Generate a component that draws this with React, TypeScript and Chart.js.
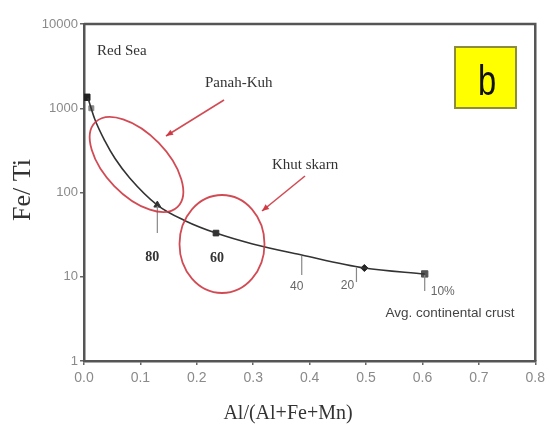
import React, { useEffect, useRef } from 'react';
import { Chart, registerables } from 'chart.js';

Chart.register(...registerables);

// Mixing curve: Red Sea sediments -> average continental crust
const ratioAl = [0.007, 0.019, 0.037, 0.055, 0.081, 0.13, 0.18, 0.234, 0.299, 0.386, 0.497, 0.604];
const ratioFeTi = [1324, 745, 409, 253, 149, 71, 46, 33, 24.5, 18.1, 12.7, 10.8];

// Plotted sample markers
const markerAl = [0.005, 0.013, 0.13, 0.234, 0.497, 0.604];
const markerFeTi = [1350, 1000, 71, 33, 12.7, 10.8];

// Mixing percentage marks along the curve
const mixLabels = ['80', '60', '40', '20', '10%'];
const mixAl = [0.13, 0.234, 0.386, 0.483, 0.604];
const mixFeTi = [71, 33, 18.1, 13.4, 10.8];

const xTickValues = [0, 0.1, 0.2, 0.3, 0.4, 0.5, 0.6, 0.7, 0.8];
const yTickValues = [1, 10, 100, 1000, 10000];

const SERIF = "'Liberation Serif', 'Times New Roman', serif";
const SANS = "'Liberation Sans', Arial, sans-serif";

function arrow(ctx: CanvasRenderingContext2D, x1: number, y1: number, x2: number, y2: number) {
  ctx.beginPath();
  ctx.moveTo(x1, y1);
  ctx.lineTo(x2, y2);
  ctx.stroke();
  const a = Math.atan2(y2 - y1, x2 - x1);
  const L = 7, W = 3;
  ctx.beginPath();
  ctx.moveTo(x2, y2);
  ctx.lineTo(x2 - L * Math.cos(a) + W * Math.sin(a), y2 - L * Math.sin(a) - W * Math.cos(a));
  ctx.lineTo(x2 - L * Math.cos(a) - W * Math.sin(a), y2 - L * Math.sin(a) + W * Math.cos(a));
  ctx.closePath();
  ctx.fill();
}

const decorPlugin = {
  id: 'decor',
  afterDraw(chart: any) {
    const ctx: CanvasRenderingContext2D = chart.ctx;
    const { left, right, top, bottom } = chart.chartArea;
    const xs = chart.scales.x;
    const ys = chart.scales.y;
    ctx.save();

    // frame top & right
    ctx.strokeStyle = '#555';
    ctx.lineWidth = 2.5;
    ctx.beginPath();
    ctx.moveTo(left, top);
    ctx.lineTo(right, top);
    ctx.lineTo(right, bottom);
    ctx.stroke();

    // mixing ticks and labels
    ctx.strokeStyle = '#888';
    ctx.lineWidth = 1.2;
    const tickLen = [28, 0, 20, 16, 17];
    const labelOff = [[-5, 52], [1, 25], [-5, 32], [-9, 20], [6, 18]];
    mixLabels.forEach((lab, i) => {
      const px = xs.getPixelForValue(mixAl[i]);
      const py = ys.getPixelForValue(mixFeTi[i]);
      if (tickLen[i] > 0) {
        ctx.beginPath();
        ctx.moveTo(px, py + 1);
        ctx.lineTo(px, py + tickLen[i]);
        ctx.stroke();
      }
      const [ox, oy] = labelOff[i];
      ctx.textBaseline = 'middle';
      if (i < 2) {
        ctx.font = `bold 14px ${SERIF}`;
        ctx.fillStyle = '#333';
        ctx.textAlign = 'center';
      } else {
        ctx.font = `12px ${SANS}`;
        ctx.fillStyle = '#666';
        ctx.textAlign = i === 4 ? 'left' : 'center';
      }
      ctx.fillText(lab, px + ox, py + oy);
    });

    // Avg. continental crust
    ctx.font = `13.5px ${SANS}`;
    ctx.fillStyle = '#444';
    ctx.textAlign = 'center';
    ctx.fillText('Avg. continental crust', 450, 313);

    // Serif annotations
    ctx.font = `15px ${SERIF}`;
    ctx.fillStyle = '#333';
    ctx.textAlign = 'left';
    ctx.fillText('Red Sea', 97, 51);
    ctx.fillText('Panah-Kuh', 205, 83);
    ctx.fillText('Khut skarn', 272, 165);

    // red ellipses & arrows
    ctx.strokeStyle = 'rgba(205,55,65,0.9)';
    ctx.fillStyle = 'rgba(205,55,65,0.95)';
    ctx.lineWidth = 1.8;
    ctx.beginPath();
    ctx.ellipse(136.5, 164.5, 59, 31, 0.8, 0, Math.PI * 2);
    ctx.stroke();
    ctx.beginPath();
    ctx.ellipse(222, 244, 42.5, 49, 0, 0, Math.PI * 2);
    ctx.stroke();
    ctx.lineWidth = 1.6;
    arrow(ctx, 224, 100, 166, 136);
    arrow(ctx, 305, 176, 262, 211);

    // yellow "b" box
    ctx.fillStyle = '#ffff00';
    ctx.fillRect(455, 47, 61, 61);
    ctx.strokeStyle = '#8c8c3a';
    ctx.lineWidth = 2;
    ctx.strokeRect(455, 47, 61, 61);
    ctx.fillStyle = '#111';
    ctx.save();
    ctx.translate(487, 95);
    ctx.scale(0.78, 1);
    ctx.font = `42px ${SANS}`;
    ctx.textAlign = 'center';
    ctx.textBaseline = 'alphabetic';
    ctx.fillText('b', 0, 0);
    ctx.restore();

    // axis titles
    ctx.fillStyle = '#333';
    ctx.font = `20px ${SERIF}`;
    ctx.textAlign = 'center';
    ctx.textBaseline = 'middle';
    ctx.fillText('Al/(Al+Fe+Mn)', 288, 414);
    ctx.save();
    ctx.translate(23, 190);
    ctx.rotate(-Math.PI / 2);
    ctx.font = `26px ${SERIF}`;
    ctx.fillText('Fe/ Ti', 0, 0);
    ctx.restore();

    ctx.restore();
  },
};

export default function App() {
  const ref = useRef<HTMLCanvasElement | null>(null);
  useEffect(() => {
    if (!ref.current) return;
    const chart = new Chart(ref.current, {
      type: 'line',
      data: {
        datasets: [
          {
            data: ratioAl.map((x, i) => ({ x, y: ratioFeTi[i] })),
            borderColor: '#333',
            borderWidth: 1.6,
            pointRadius: 0,
            cubicInterpolationMode: 'monotone',
            fill: false,
          },
          {
            data: markerAl.map((x, i) => ({ x, y: markerFeTi[i] })),
            showLine: false,
            pointStyle: ['rect', 'rect', 'triangle', 'rect', 'rectRot', 'rect'],
            pointRadius: [4.5, 3.5, 4, 4, 3.5, 4.5],
            backgroundColor: ['#222', '#888', '#333', '#333', '#222', '#555'],
            borderColor: ['#222', '#888', '#333', '#333', '#222', '#555'],
            borderWidth: 1,
          },
        ],
      },
      options: {
        animation: false,
        responsive: false,
        layout: { padding: { left: 0, top: 24, right: 12, bottom: 0 } },
        plugins: { legend: { display: false }, tooltip: { enabled: false } },
        scales: {
          x: {
            type: 'linear',
            min: 0,
            max: 0.8,
            afterBuildTicks: (s: any) => {
              s.ticks = xTickValues.map((v) => ({ value: v }));
            },
            afterFit: (s: any) => {
              s.height = 67;
            },
            ticks: {
              callback: (v: any) => Number(v).toFixed(1),
              font: { family: SANS, size: 14 },
              color: '#8a8a8a',
              padding: 5,
              maxRotation: 0,
              autoSkip: false,
            },
            grid: { drawOnChartArea: false, drawTicks: true, tickLength: 4, color: '#666', lineWidth: 1.5 },
            border: { display: true, color: '#555', width: 2.5 },
          },
          y: {
            type: 'logarithmic',
            min: 1,
            max: 10000,
            afterBuildTicks: (s: any) => {
              s.ticks = yTickValues.map((v) => ({ value: v }));
            },
            afterFit: (s: any) => {
              s.width = 84;
            },
            ticks: {
              callback: (v: any) => String(v),
              font: { family: SANS, size: 13 },
              color: '#8a8a8a',
              padding: 2,
              autoSkip: false,
            },
            grid: { drawOnChartArea: false, drawTicks: true, tickLength: 4, color: '#666', lineWidth: 1.5 },
            border: { display: true, color: '#555', width: 2.5 },
          },
        },
      } as any,
      plugins: [decorPlugin],
    });
    return () => chart.destroy();
  }, []);
  return (
    <div style={{ position: 'absolute', left: 0, top: 0, width: 550, height: 428, background: '#fff' }}>
      <canvas ref={ref} width={550} height={428} />
    </div>
  );
}
